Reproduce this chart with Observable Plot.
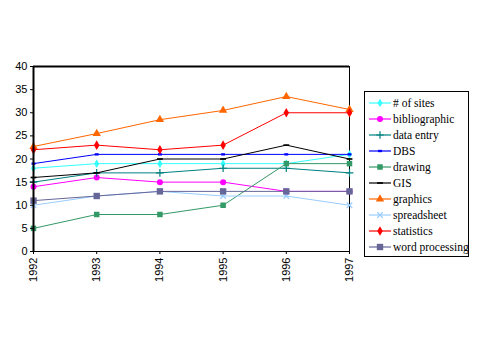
<!DOCTYPE html>
<html>
<head>
<meta charset="utf-8">
<script src="https://cdn.jsdelivr.net/npm/d3@7"></script>
<script src="https://cdn.jsdelivr.net/npm/@observablehq/plot@0.6"></script>
<style>
  html, body { margin: 0; padding: 0; background: #fff; }
  #wrap { position: relative; width: 479px; height: 359px; }
  #legend { position: absolute; left: 364px; top: 91px; width: 105px; height: 166px;
    border: 1px solid #000; box-sizing: border-box; background: #fff;
    font-family: "Liberation Serif", "Times New Roman", serif; font-size: 11.5px; color: #000; }
  .item { position: absolute; left: 4px; height: 16px; display: flex; align-items: center; white-space: nowrap; }
  .item svg { margin-right: 2px; }
</style>
</head>
<body>
<div id="wrap"><div id="chart"></div><div id="legend"></div></div>
<script>
const years = [1992, 1993, 1994, 1995, 1996, 1997];
const seriesNames = ["# of sites", "bibliographic", "data entry", "DBS", "drawing", "GIS", "graphics", "spreadsheet", "statistics", "word processing"];
const numSites      = [18, 19, 19, 19, 19, 21];
const bibliographic = [14, 16, 15, 15, 13, 13];
const dataEntry     = [15, 17, 17, 18, 18, 17];
const dbs           = [19, 21, 21, 21, 21, 21];
const drawing       = [5, 8, 8, 10, 19, 19];
const gis           = [16, 17, 20, 20, 23, 20];
const graphics      = [22.7, 25.5, 28.5, 30.5, 33.5, 30.7];
const spreadsheet   = [10, 12, 13, 12, 12, 10];
const statistics    = [22, 23, 22, 23, 30, 30];
const wordProc      = [11, 12, 13, 13, 13, 13];
const yTicks = [0, 5, 10, 15, 20, 25, 30, 35, 40];

const dash = { draw(ctx, size) { const w = Math.sqrt(size) * 1.1, h = Math.max(1.5, w / 3.5); ctx.rect(-w / 2, -h / 2, w, h); } };
const smallRect = { draw(ctx, size) { const w = Math.sqrt(size) * 1.0, h = w * 0.6; ctx.rect(-w / 2, -h / 2, w, h); } };

const styles = [
  { color: "#33FFFF", symbol: "diamond", r: 2.6, stroke: false },
  { color: "#FF00FF", symbol: "circle", r: 3, stroke: false },
  { color: "#008080", symbol: "plus", r: 2.6, stroke: true },
  { color: "#0000FF", symbol: smallRect, r: 2.2, stroke: false },
  { color: "#339966", symbol: "square", r: 3.1, stroke: false },
  { color: "#000000", symbol: dash, r: 3, stroke: false },
  { color: "#FF6600", symbol: "triangle", r: 3.1, stroke: false },
  { color: "#99CCFF", symbol: "times", r: 2.6, stroke: true },
  { color: "#FF0000", symbol: "diamond", r: 2.9, stroke: false },
  { color: "#666699", symbol: "square", r: 3.6, stroke: false }
];
const allValues = [numSites, bibliographic, dataEntry, dbs, drawing, gis, graphics, spreadsheet, statistics, wordProc];

const marks = [
  Plot.ruleY([0], { stroke: "#000", strokeWidth: 1 }),
  Plot.ruleY([40], { stroke: "#000", strokeWidth: 2 }),
  Plot.ruleX([1997], { stroke: "#000", strokeWidth: 1 }),
];
allValues.forEach((vals, i) => {
  const data = years.map((y, j) => ({ year: y, value: vals[j] }));
  const s = styles[i];
  marks.push(Plot.line(data, { x: "year", y: "value", stroke: s.color, strokeWidth: 1 }));
  if (s.stroke) {
    marks.push(Plot.dot(data, { x: "year", y: "value", symbol: s.symbol, r: s.r, stroke: s.color, strokeWidth: 1.2, fill: "none" }));
  } else {
    marks.push(Plot.dot(data, { x: "year", y: "value", symbol: s.symbol, r: s.r, fill: s.color, stroke: "none" }));
  }
});
marks.push(Plot.ruleX([1992], { stroke: "#000", strokeWidth: 2 }));
marks.push(Plot.axisY({ ticks: yTicks, tickSize: 3, tickPadding: 3, fontSize: 11 }));
marks.push(Plot.axisX({ ticks: years, tickFormat: d => String(d), tickSize: 3, tickPadding: 3, tickRotate: -90, fontSize: 11 }));

const chart = Plot.plot({
  width: 479, height: 359,
  marginLeft: 33, marginRight: 130, marginTop: 66, marginBottom: 108,
  style: { fontFamily: "'Liberation Sans', Arial, sans-serif", fontSize: "11px", color: "#000", background: "#fff" },
  x: { domain: [1992, 1997], label: null },
  y: { domain: [0, 40], label: null },
  marks
});
document.getElementById("chart").appendChild(chart);

// legend
const legend = d3.select("#legend");
const symMap = { diamond: d3.symbolDiamond, circle: d3.symbolCircle, plus: d3.symbolPlus, square: d3.symbolSquare, triangle: d3.symbolTriangle, times: d3.symbolTimes };
seriesNames.forEach((name, i) => {
  const s = styles[i];
  const item = legend.append("div").attr("class", "item").style("top", (3 + i * 16) + "px");
  const svg = item.append("svg").attr("width", 22).attr("height", 12);
  svg.append("line").attr("x1", 0).attr("x2", 22).attr("y1", 6).attr("y2", 6).attr("stroke", s.color).attr("stroke-width", 1.2);
  const t = typeof s.symbol === "string" ? symMap[s.symbol] : s.symbol;
  const p = svg.append("path").attr("transform", "translate(11,6)").attr("d", d3.symbol(t, Math.PI * s.r * s.r)());
  if (s.stroke) p.attr("fill", "none").attr("stroke", s.color).attr("stroke-width", 1.2);
  else p.attr("fill", s.color);
  item.append("span").text(name);
});
</script>
</body>
</html>
